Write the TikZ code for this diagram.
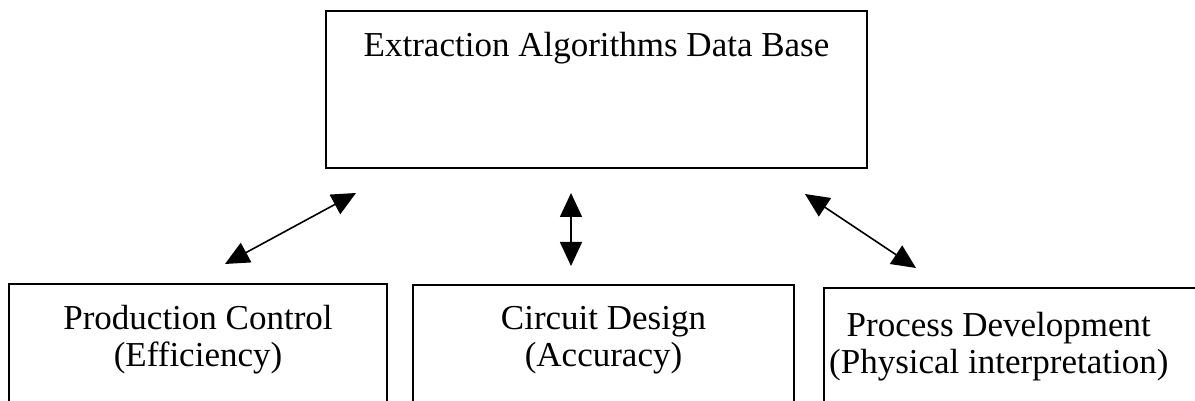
\documentclass[tikz,border=0pt]{standalone}
\usepackage{fontspec}
\setmainfont{Liberation Serif}
\usetikzlibrary{positioning,arrows.meta}

\begin{document}
\begin{tikzpicture}
[x=1pt,y=1pt,
 box/.style={draw,line width=2pt,inner sep=0pt},
 txt/.style={inner sep=0pt,align=center,font=\fontsize{35}{37}\selectfont},
 link/.style={line width=1.6pt,{Triangle[length=24pt,width=22pt]}-{Triangle[length=24pt,width=22pt]}}]

\useasboundingbox (0,0) rectangle (1195,401);
\clip (0,0) rectangle (1195,401);

\node (db) at (596.5,311.5) [box,minimum width=541pt,minimum height=157pt]{};
\node (dbtext) [txt,below=22pt of db.north]{Extraction Algorithms Data Base};

\node (pc) at (198,48.5) [box,minimum width=378pt,minimum height=137pt]{};
\node (cd) at (603.5,48) [box,minimum width=381pt,minimum height=136pt]{};
\node (pd) at (1027,46.5) [box,minimum width=406pt,minimum height=133pt]{};

\node (pctext) [txt,below=22pt of pc.north]{Production Control\\(Efficiency)};
\node (cdtext) [txt,below=22pt of cd.north]{Circuit Design\\(Accuracy)};
\node (pdtext) [txt,below right=25pt and 6pt of pd.north west]{Process Development\\(Physical interpretation)};

\draw[link] ([xshift=31pt,yshift=-24pt]db.south west) -- ([xshift=27pt,yshift=19pt]pc.north);
\draw[link] ([xshift=-25.5pt,yshift=-24pt]db.south) -- ([xshift=-32.5pt,yshift=18pt]cd.north);
\draw[link] ([xshift=-63pt,yshift=-25pt]db.south east) -- ([xshift=93pt,yshift=19pt]pd.north west);
\end{tikzpicture}
\end{document}
